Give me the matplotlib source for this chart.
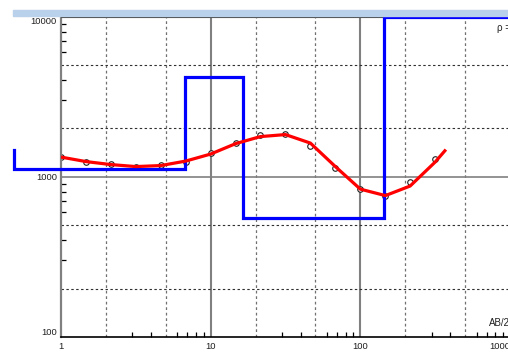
import matplotlib
matplotlib.use('Agg')
import matplotlib.pyplot as plt
from matplotlib.patches import Rectangle

# ---- data ----
ab2_points = [1, 1.47, 2.15, 3.16, 4.64, 6.81, 10, 14.7, 21.5, 31.6, 46.4, 68.1, 100, 147, 215, 316]
rho_apparent = [1330, 1236, 1192, 1151, 1175, 1236, 1396, 1619, 1824, 1845, 1562, 1125, 832, 759, 920, 1281]

curve_ab2 = [1, 1.47, 2.15, 3.16, 4.64, 6.81, 10, 14.7, 21.5, 31.6, 46.4, 68.1, 100, 147, 215, 316, 373]
curve_rho = [1324, 1241, 1189, 1155, 1172, 1250, 1383, 1607, 1778, 1830, 1619, 1155, 835, 761, 873, 1232, 1475]

layer_bounds = [0.485, 6.73, 16.5, 144.5, 1000]
layer_rho = [1122, 4170, 548, 10000]
start_rho = 1465

x_tick_values = [1, 10, 100, 1000]
x_tick_labels = ['1', '10', '100', '1000']
y_tick_values = [100, 1000, 10000]
y_tick_labels = ['100', '1000', '10000']

# ---- figure ----
W, H = 508, 354
fig = plt.figure(figsize=(W / 100, H / 100), dpi=100)
plt.rcParams['font.family'] = ['Liberation Sans', 'DejaVu Sans']

ax = fig.add_axes([61 / W, 17.3 / H, 449 / W, 320.2 / H])
ax.set_xscale('log')
ax.set_yscale('log')
ax.set_xlim(1, 1000)
ax.set_ylim(100, 10000)

# grid
for dec in [1, 10, 100]:
    for m in [2, 5]:
        ax.axvline(dec * m, color='#707070', lw=0.9, ls=(0, (2.2, 2.2)), zorder=1)
    if dec > 1:
        ax.axvline(dec, color='#808080', lw=1.5, zorder=1)
for dec in [100, 1000]:
    for m in [2, 5]:
        ax.axhline(dec * m, color='#303030', lw=0.8, ls=(0, (2.2, 2.2)), zorder=1)
ax.axhline(1000, color='#808080', lw=1.2, zorder=1)

# model (blue step line)
mx = [layer_bounds[0]]
my = [start_rho]
for i, r in enumerate(layer_rho):
    mx += [layer_bounds[i], layer_bounds[i + 1]]
    my += [r, r]
ax.plot(mx, my, color='#0000ff', lw=2.3, clip_on=False, zorder=3,
        solid_joinstyle='miter')

# observed points
ax.plot(ab2_points, rho_apparent, 'o', ms=4, mfc='white', mec='#202020', mew=0.8, zorder=2)
# computed curve
ax.plot(curve_ab2, curve_rho, color='#ff0000', lw=2.3, zorder=4, solid_capstyle='butt')

# ticks
ax.set_xticks(x_tick_values, x_tick_labels)
ax.set_yticks(y_tick_values, y_tick_labels)
minor_mult = [3, 4, 6, 7, 8, 9]
ax.set_xticks([d * m for d in [1, 10, 100] for m in minor_mult], minor=True)
ax.set_yticks([d * m for d in [100, 1000] for m in minor_mult], minor=True)
ax.xaxis.set_minor_formatter(plt.NullFormatter())
ax.yaxis.set_minor_formatter(plt.NullFormatter())
ax.tick_params(which='major', length=0, labelsize=6.8, colors='#202020')
ax.tick_params(axis='x', which='major', pad=4)
ax.tick_params(axis='y', which='major', pad=3)
ax.tick_params(which='minor', direction='in', length=3.4, width=0.9, color='black')

xt = ax.xaxis.get_major_ticks()
xt[-1].label1.set_horizontalalignment('right')
yt = ax.yaxis.get_major_ticks()
yt[0].label1.set_verticalalignment('bottom')
yt[-1].label1.set_verticalalignment('top')

# spines
ax.spines['left'].set_color('#808080')
ax.spines['left'].set_linewidth(1.6)
ax.spines['bottom'].set_color('black')
ax.spines['bottom'].set_linewidth(1.2)
ax.spines['top'].set_color('#404040')
ax.spines['top'].set_linewidth(0.8)
ax.spines['right'].set_visible(False)

# decorations
fig.patches.append(Rectangle((13 / W, 1 - 15.5 / H), (W - 13) / W, 5.5 / H,
                             transform=fig.transFigure, color='#b9d1ea', zorder=0))
fig.text(497 / W, 1 - 28 / H, 'ρ =', fontsize=7, va='center', ha='left', color='#202020')
fig.text(489 / W, 1 - 323 / H, 'AB/2', fontsize=7, va='center', ha='left', color='#202020')

fig.savefig('out.png', dpi=100)
